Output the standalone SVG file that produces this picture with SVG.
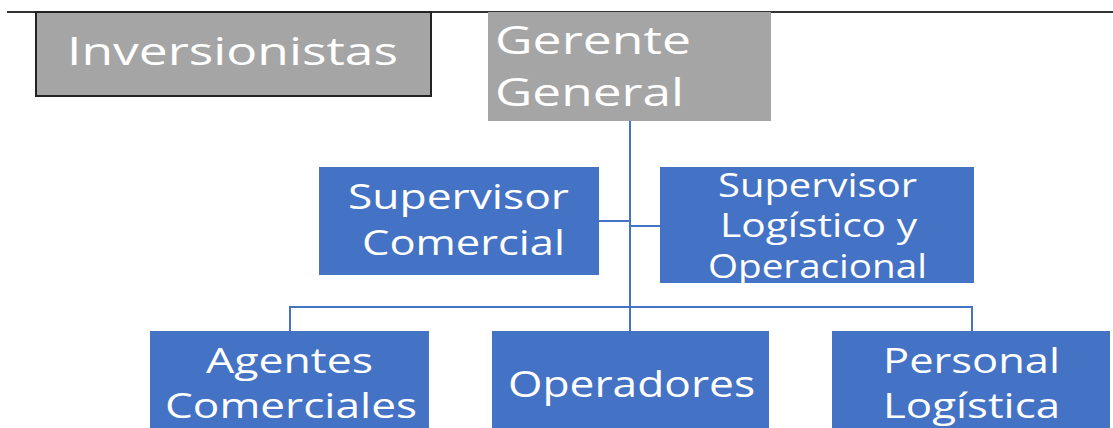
<svg xmlns="http://www.w3.org/2000/svg" width="1113" height="428" viewBox="0 0 1113 428">
<style>
.gray{fill:#a5a5a5}
.blue{fill:#4472c4}
.t{font-family:"Open Sans","Noto Sans","Liberation Sans",sans-serif;fill:#ffffff}
.conn{stroke:#4472c4;stroke-width:2;fill:none}
</style>
<rect width="1113" height="428" fill="#ffffff"/>
<line x1="7" y1="12" x2="1113" y2="12" stroke="#333333" stroke-width="2"/>
<g id="inversionistas">
<rect x="36" y="12" width="395" height="84" class="gray" stroke="#222222" stroke-width="2"/>
<text class="t" x="67" y="65" font-size="39" textLength="331" lengthAdjust="spacingAndGlyphs">Inversionistas</text>
</g>
<g id="gerente-general">
<rect x="488" y="12" width="283" height="109" class="gray"/>
<text class="t" x="495" y="54" font-size="38" textLength="196" lengthAdjust="spacingAndGlyphs">Gerente</text>
<text class="t" x="495" y="106" font-size="38" textLength="189" lengthAdjust="spacingAndGlyphs">General</text>
</g>
<g id="connectors">
<line class="conn" x1="630" y1="121" x2="630" y2="331"/>
<line class="conn" x1="599" y1="221" x2="630" y2="221"/>
<line class="conn" x1="630" y1="226" x2="660" y2="226"/>
<polyline class="conn" points="290,331 290,307 972,307 972,331"/>
</g>
<g id="supervisor-comercial">
<rect x="319" y="167" width="280" height="108" class="blue"/>
<text class="t" x="348" y="209" font-size="35" textLength="221" lengthAdjust="spacingAndGlyphs">Supervisor</text>
<text class="t" x="362" y="255" font-size="35" textLength="203" lengthAdjust="spacingAndGlyphs">Comercial</text>
</g>
<g id="supervisor-logistico">
<rect x="660" y="167" width="314" height="116" class="blue"/>
<text class="t" x="718" y="197" font-size="32" textLength="199" lengthAdjust="spacingAndGlyphs">Supervisor</text>
<text class="t" x="720" y="237" font-size="32" textLength="197" lengthAdjust="spacingAndGlyphs">Logístico y</text>
<text class="t" x="708" y="278" font-size="32" textLength="219" lengthAdjust="spacingAndGlyphs">Operacional</text>
</g>
<g id="agentes-comerciales">
<rect x="150" y="331" width="279" height="110" class="blue"/>
<text class="t" x="206" y="373" font-size="34" textLength="167" lengthAdjust="spacingAndGlyphs">Agentes</text>
<text class="t" x="165" y="418" font-size="34" textLength="252" lengthAdjust="spacingAndGlyphs">Comerciales</text>
</g>
<g id="operadores">
<rect x="492" y="331" width="277" height="110" class="blue"/>
<text class="t" x="508" y="397" font-size="36" textLength="247" lengthAdjust="spacingAndGlyphs">Operadores</text>
</g>
<g id="personal-logistica">
<rect x="832" y="331" width="278" height="110" class="blue"/>
<text class="t" x="883" y="373" font-size="34" textLength="177" lengthAdjust="spacingAndGlyphs">Personal</text>
<text class="t" x="883" y="418" font-size="34" textLength="177" lengthAdjust="spacingAndGlyphs">Logística</text>
</g>
</svg>
